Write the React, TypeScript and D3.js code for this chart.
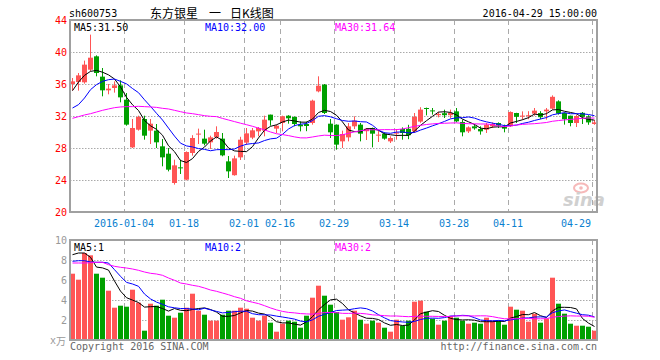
import React from 'react';
import * as d3 from 'd3';

// ---- data ----
const tickLabels = ['2016-01-04', '01-18', '02-01', '02-16', '02-29', '03-14', '03-28', '04-11', '04-29'];
const tickIndex = [9, 19, 29, 35, 44, 54, 64, 73, 87];
const priceTicks = [44, 40, 36, 32, 28, 24, 20];
const volTicks = [10, 8, 6, 4, 2];

const opens = [36.0, 36.25, 36.21, 37.79, 39.46, 36.92, 35.21, 35.5, 35.83, 34.04,
  28.08, 30.29, 31.625, 30.17, 30.17, 28.21, 27.29, 23.625, 25.58, 24.04,
  27.375, 29.7, 29.17, 28.71, 29.375, 29.17, 26.33, 24.6, 26.83, 28.67,
  29.3, 30.08, 30.17, 32.17, 30.42, 31.125, 32.04, 31.875, 30.92, 31.0,
  31.125, 35.08, 35.92, 31.04, 30.92, 28.83, 29.33, 30.71, 30.92, 30.1,
  30.5, 29.54, 29.79, 28.83, 29.8, 30.375, 30.4, 30.08, 31.3, 33.0,
  32.7, 32.1, 32.35, 32.1, 32.58, 31.25, 30.08, 30.71, 30.375, 30.29,
  30.71, 31.125, 30.71, 30.71, 32.375, 31.95, 32.0, 32.29, 32.375, 32.58,
  32.92, 33.83, 32.375, 32.04, 31.125, 32.4, 31.95, 31.0];
const highs = [36.75, 37.375, 38.92, 42.17, 39.58, 38.0, 36.0, 36.33, 36.46, 34.875,
  31.625, 32.04, 32.04, 31.625, 31.0, 29.125, 28.0, 26.54, 26.54, 27.58,
  29.6, 30.42, 30.29, 29.54, 30.71, 29.875, 27.0, 27.04, 29.4, 30.5,
  30.5, 30.625, 32.04, 32.17, 30.92, 32.04, 32.1, 31.96, 31.33, 31.3,
  34.04, 36.96, 36.0, 31.625, 30.95, 30.17, 31.125, 31.96, 31.125, 30.5,
  30.55, 30.17, 29.96, 29.46, 30.375, 30.58, 30.9, 32.375, 33.1, 33.05,
  33.0, 32.5, 32.79, 32.8, 33.0, 31.54, 30.71, 31.0, 30.71, 31.125,
  31.2, 31.2, 30.92, 32.58, 32.4, 32.58, 32.6, 33.0, 32.6, 33.0,
  34.58, 33.96, 32.45, 32.04, 32.17, 32.5, 32.1, 31.5];
const lows = [35.17, 35.17, 36.04, 37.58, 36.96, 34.46, 34.71, 34.92, 33.71, 30.79,
  28.0, 30.17, 29.04, 28.5, 28.0, 25.71, 25.08, 23.42, 24.75, 23.96,
  27.04, 28.5, 28.33, 27.875, 29.17, 26.96, 24.25, 24.54, 26.5, 28.4,
  29.1, 29.46, 29.46, 30.79, 29.875, 30.08, 31.04, 30.71, 30.08, 30.1,
  30.92, 34.96, 32.25, 29.25, 27.79, 28.0, 28.83, 30.375, 28.83, 29.0,
  28.08, 28.75, 29.04, 28.625, 29.04, 29.04, 29.1, 29.875, 31.15, 32.08,
  32.17, 31.83, 31.75, 31.7, 31.21, 29.46, 29.875, 30.29, 29.67, 29.875,
  30.5, 30.5, 29.96, 30.625, 31.125, 31.54, 31.6, 32.04, 31.6, 31.54,
  32.79, 32.17, 30.92, 30.71, 30.625, 31.0, 30.9, 30.9];
const closes = [36.33, 37.08, 38.42, 39.29, 37.375, 35.21, 35.42, 35.83, 34.33, 30.92,
  30.5, 31.875, 29.54, 31.04, 28.71, 26.83, 25.29, 25.83, 25.5, 27.5,
  29.25, 29.8, 28.54, 29.33, 30.0, 27.08, 25.08, 26.7, 29.04, 29.83,
  30.21, 30.5, 31.54, 31.46, 30.79, 31.96, 31.71, 31.0, 30.71, 30.75,
  33.92, 35.79, 32.375, 29.96, 28.42, 29.75, 30.71, 31.42, 29.79, 30.4,
  29.79, 29.67, 29.17, 29.25, 29.95, 29.875, 29.6, 31.9, 32.8, 32.9,
  32.6, 32.25, 32.1, 32.4, 31.33, 29.96, 30.58, 30.46, 30.08, 30.92,
  31.0, 30.79, 30.42, 32.5, 31.9, 32.05, 32.1, 32.67, 31.85, 32.8,
  34.4, 32.3, 31.6, 31.125, 32.0, 31.9, 31.2, 31.2];
const volumes = [6.63, 6.03, 8.7, 8.47, 6.63, 6.23, 4.93, 3.23, 3.43, 3.33,
  5.03, 3.73, 0.93, 3.63, 3.43, 4.03, 2.43, 2.23, 2.73, 3.23,
  4.63, 2.93, 2.53, 1.93, 1.93, 2.53, 2.93, 2.93, 3.23, 3.13,
  2.23, 1.93, 2.43, 1.73, 0.83, 1.63, 1.93, 1.83, 1.23, 2.43,
  4.23, 5.43, 4.43, 3.53, 2.8, 2.03, 2.27, 2.93, 2.03, 1.63,
  1.93, 1.73, 1.23, 0.83, 2.03, 1.43, 1.93, 3.83, 3.93, 2.83,
  2.13, 1.53, 1.93, 2.4, 2.23, 1.93, 1.63, 1.73, 1.63, 2.23,
  1.93, 1.93, 1.53, 3.33, 3.03, 2.93, 1.83, 2.63, 1.73, 2.13,
  6.23, 3.63, 2.63, 1.63, 1.43, 1.43, 1.33, 0.93];

// moving-average values before a full window exists
const priceMa5Head = [35.17, 36.25, 37.08, 37.58];
const priceMa10Head = [33.0, 33.42, 34.25, 35.29, 35.92, 36.33, 36.54, 36.62, 36.33];
const priceMa30Head = [31.71, 31.92, 32.13, 32.29, 32.5, 32.71, 32.88, 33.04, 33.13, 33.17,
  33.17, 33.21, 33.17, 33.13, 33.08, 32.96, 32.88, 32.71, 32.54, 32.38,
  32.29, 32.17, 32.04, 31.96, 31.92, 31.7, 31.5, 31.3, 31.1];
const volMa5Head = [8.53, 8.7, 8.7, 8.27];
const volMa10Head = [7.87, 7.93, 7.93, 7.8, 7.77, 7.77, 7.7, 7.03, 6.37];
const volMa30Head = [7.7, 7.7, 7.7, 7.73, 7.77, 7.77, 7.53, 7.37, 7.27, 7.2,
  7.1, 6.97, 6.8, 6.67, 6.6, 6.47, 6.2, 5.97, 5.7, 5.6,
  5.47, 5.37, 5.2, 5.0, 4.87, 4.7, 4.53, 4.33, 4.17];

const priceMaLabels = ['MA5:31.50', 'MA10:32.00', 'MA30:31.64'];
const volMaLabels = ['MA5:1', 'MA10:2', 'MA30:2'];

// ---- helpers ----
function movingAvg(vals: number[], n: number, head: number[]): number[] {
  return vals.map((_, i) => {
    if (i < head.length) return head[i];
    return d3.mean(vals.slice(i - n + 1, i + 1)) as number;
  });
}

const RED = '#ff5555';
const GREEN = '#00a000';
const MONO = '"DejaVu Sans Mono", monospace';

export default function App() {
  const L = 70, R = 597;
  const pTop = 20, pBot = 212, vTop = 240, vBot = 340;
  const n = closes.length;
  const x = d3.scaleLinear().domain([0, n]).range([L, L + 6 * n]);
  const yP = d3.scaleLinear().domain([20, 44]).range([pBot, pTop]);
  const yV = d3.scaleLinear().domain([0, 10]).range([vBot, vTop]);
  const cx = (i: number) => x(i) + 2.5;

  const pMa = [movingAvg(closes, 5, priceMa5Head), movingAvg(closes, 10, priceMa10Head), movingAvg(closes, 30, priceMa30Head)];
  const vMa = [movingAvg(volumes, 5, volMa5Head), movingAvg(volumes, 10, volMa10Head), movingAvg(volumes, 30, volMa30Head)];
  const maColors = ['#000000', '#0000ff', '#ff00ff'];
  const lineP = d3.line<number>().x((_, i) => cx(i)).y(d => yP(d));
  const lineV = d3.line<number>().x((_, i) => cx(i)).y(d => yV(d));
  const labelX = [74, 205, 335];

  const gridH = '#aaaaaa';
  return (
    <svg width={660} height={360} style={{ position: 'absolute', left: 0, top: 0, background: '#fff' }}
      fontFamily={MONO} fontSize={10}>
      <rect x={0} y={0} width={660} height={360} fill="#fff" />
      {/* title row */}
      <text x={69} y={17} fill="#000">sh600753</text>
      <g fontFamily='"Noto Sans CJK SC", sans-serif' fontSize={12} fill="#000">
        <text x={150} y={18}>东方银星</text>
        <text x={209} y={18}>一</text>
        <text x={230} y={18}>日K线图</text>
      </g>
      <text x={597} y={17} textAnchor="end" fill="#000">2016-04-29 15:00:00</text>

      {/* price grid */}
      {priceTicks.slice(1, -1).map(t => (
        <line key={'hp' + t} x1={L} x2={R} y1={yP(t) + 0.5} y2={yP(t) + 0.5} stroke={gridH} strokeDasharray="1.5,1.5" />
      ))}
      {volTicks.slice(1).map(t => (
        <line key={'hv' + t} x1={L} x2={R} y1={yV(t) + 0.5} y2={yV(t) + 0.5} stroke={gridH} strokeDasharray="1.5,1.5" />
      ))}
      {tickIndex.map(ti => (
        <g key={'v' + ti}>
          <line x1={x(ti) + 0.5} x2={x(ti) + 0.5} y1={pTop} y2={pBot} stroke="#aaa" strokeDasharray="5,4" />
          <line x1={x(ti) + 0.5} x2={x(ti) + 0.5} y1={vTop} y2={vBot} stroke="#aaa" strokeDasharray="5,4" />
        </g>
      ))}

      {/* watermark */}
      <g opacity={0.55}>
        <ellipse cx={581} cy={188} rx={7} ry={4.5} fill="none" stroke="#f08080" strokeWidth={2} />
        <circle cx={581} cy={188} r={1.8} fill="#f08080" />
        <text x={563} y={206} fontFamily='"DejaVu Sans", sans-serif' fontStyle="italic" fontWeight="bold" fontSize={18} fill="#aaaaaa">sina</text>
      </g>

      {/* candles */}
      {closes.map((c, i) => {
        const o = opens[i];
        const up = c >= o;
        const col = up ? RED : GREEN;
        const top = yP(Math.max(o, c));
        const bot = yP(Math.min(o, c));
        return (
          <g key={'c' + i}>
            <line x1={cx(i)} x2={cx(i)} y1={yP(highs[i])} y2={yP(lows[i])} stroke={col} strokeWidth={1} />
            <rect x={x(i)} y={top} width={5} height={Math.max(1, bot - top)} fill={col} />
          </g>
        );
      })}
      {pMa.map((arr, k) => (
        <path key={'pm' + k} d={lineP(arr) || ''} fill="none" stroke={maColors[k]} strokeWidth={1} />
      ))}

      {/* volume bars */}
      {volumes.map((v, i) => (
        <rect key={'vb' + i} x={x(i)} y={yV(v)} width={5} height={vBot - yV(v)}
          fill={closes[i] >= opens[i] ? RED : GREEN} />
      ))}
      {vMa.map((arr, k) => (
        <path key={'vm' + k} d={lineV(arr) || ''} fill="none" stroke={maColors[k]} strokeWidth={1} />
      ))}

      {/* frames */}
      <rect x={L} y={pTop} width={R - L} height={pBot - pTop} fill="none" stroke="#a0a0a0" strokeWidth={2} />
      <rect x={L} y={vTop} width={R - L} height={vBot - vTop} fill="none" stroke="#a0a0a0" strokeWidth={2} />

      {/* MA labels */}
      {priceMaLabels.map((t, k) => (
        <text key={'pl' + k} x={labelX[k]} y={31} fill={k === 0 ? '#000' : maColors[k]}>{t}</text>
      ))}
      {volMaLabels.map((t, k) => (
        <text key={'vl' + k} x={labelX[k]} y={251} fill={k === 0 ? '#000' : maColors[k]}>{t}</text>
      ))}

      {/* axis labels */}
      {priceTicks.map(t => (
        <text key={'pt' + t} x={67} y={yP(t) + 4} textAnchor="end" fill="#ff0000">{t}</text>
      ))}
      {volTicks.map(t => (
        <text key={'vt' + t} x={67} y={yV(t) + 4} textAnchor="end" fill="#999">{t}</text>
      ))}
      <text x={50} y={344} fill="#999" fontSize={10}>x</text>
      <text x={56} y={345} fill="#999" fontSize={10} fontFamily='"Noto Sans CJK SC", sans-serif'>万</text>
      {tickLabels.map((t, k) => {
        const last = k === tickLabels.length - 1;
        return (
          <text key={'xl' + k} x={last ? x(tickIndex[k]) - 1 : x(tickIndex[k])} y={227}
            textAnchor={last ? 'end' : 'middle'} fill="#0a7fd0">{t}</text>
        );
      })}

      <text x={70} y={350} fill="#666">Copyright 2016 SINA.COM</text>
      <text x={597} y={350} textAnchor="end" fill="#666">http://finance.sina.com.cn</text>
    </svg>
  );
}
